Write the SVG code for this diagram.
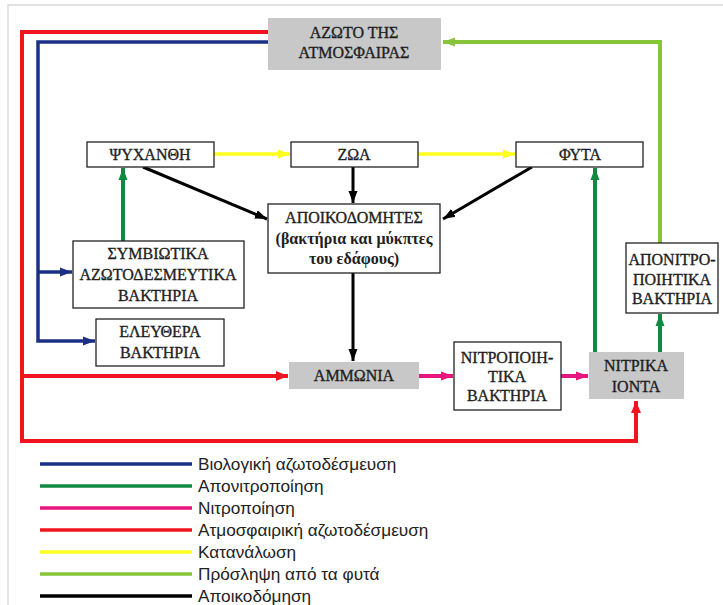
<svg xmlns="http://www.w3.org/2000/svg" width="723" height="605" viewBox="0 0 723 605">
<style>
.box{fill:#ffffff;stroke:#222;stroke-width:1.3}
.gbox{fill:#c8c8c8;stroke:none}
.t{font-family:"Liberation Serif","Times New Roman",serif;font-size:16px;fill:#1e1e1e;stroke:#1e1e1e;stroke-width:0.35;text-anchor:middle}
.tb{font-weight:bold;stroke-width:0;font-size:16px}
.lg{font-family:"Liberation Sans",Arial,sans-serif;font-size:17.2px;fill:#222}
.c{fill:none;stroke-linejoin:miter}
.red{stroke:#f0141e;stroke-width:4}
.blue{stroke:#1b2f85;stroke-width:3.5}
.dg{stroke:#108a40;stroke-width:4}
.lgr{stroke:#86c43a;stroke-width:4}
.yel{stroke:#ffff1e;stroke-width:3.5}
.mag{stroke:#e8157f;stroke-width:4}
.blk{stroke:#000;stroke-width:3}
</style>
<defs>
<marker id="aRed" markerUnits="userSpaceOnUse" markerWidth="14" markerHeight="12" refX="12" refY="6" orient="auto"><path d="M0,1 L12,6 L0,11 Z" fill="#f0141e"/></marker>
<marker id="aBlue" markerUnits="userSpaceOnUse" markerWidth="14" markerHeight="12" refX="12" refY="6" orient="auto"><path d="M0,1.5 L12,6 L0,10.5 Z" fill="#1b2f85"/></marker>
<marker id="aDG" markerUnits="userSpaceOnUse" markerWidth="14" markerHeight="12" refX="12" refY="6" orient="auto"><path d="M0,1.5 L12,6 L0,10.5 Z" fill="#108a40"/></marker>
<marker id="aLG" markerUnits="userSpaceOnUse" markerWidth="14" markerHeight="12" refX="12" refY="6" orient="auto"><path d="M0,1.5 L12,6 L0,10.5 Z" fill="#86c43a"/></marker>
<marker id="aYel" markerUnits="userSpaceOnUse" markerWidth="14" markerHeight="12" refX="12" refY="6" orient="auto"><path d="M0,1.5 L12,6 L0,10.5 Z" fill="#ffff1e"/></marker>
<marker id="aMag" markerUnits="userSpaceOnUse" markerWidth="14" markerHeight="12" refX="12" refY="6" orient="auto"><path d="M0,1.5 L12,6 L0,10.5 Z" fill="#e8157f"/></marker>
<marker id="aBlk" markerUnits="userSpaceOnUse" markerWidth="14" markerHeight="12" refX="12" refY="6" orient="auto"><path d="M0,1.5 L12,6 L0,10.5 Z" fill="#000"/></marker>
</defs>
<rect width="723" height="605" fill="#ffffff"/>
<path d="M8,605 V5 H723" fill="none" stroke="#d8d8d8" stroke-width="1.3"/>

<g id="connectors">
<path class="c red" d="M268,32 H22 V441 H636 V401" marker-end="url(#aRed)"/>
<path class="c red" d="M22,376 H288" marker-end="url(#aRed)"/>
<path class="c blue" d="M268,42 H38 V341 H95" marker-end="url(#aBlue)"/>
<path class="c blue" d="M38,272 H72" marker-end="url(#aBlue)"/>
<path class="c lgr" d="M660,243 V42 H443" marker-end="url(#aLG)"/>
<path class="c yel" d="M214,154 H290" marker-end="url(#aYel)"/>
<path class="c yel" d="M418,154 H515" marker-end="url(#aYel)"/>
<path class="c blk" d="M143,167 L267,219" marker-end="url(#aBlk)"/>
<path class="c blk" d="M353,167 V203" marker-end="url(#aBlk)"/>
<path class="c blk" d="M532,167 L443,219" marker-end="url(#aBlk)"/>
<path class="c blk" d="M353,273 V361" marker-end="url(#aBlk)"/>
<path class="c dg" d="M123,241 V168" marker-end="url(#aDG)"/>
<path class="c dg" d="M595,352 V168" marker-end="url(#aDG)"/>
<path class="c dg" d="M660,352 V314" marker-end="url(#aDG)"/>
<path class="c mag" d="M419,376 H453" marker-end="url(#aMag)"/>
<path class="c mag" d="M561,376 H588" marker-end="url(#aMag)"/>
</g>

<g id="azoto">
<rect class="gbox" x="268" y="18" width="173" height="52"/>
<text class="t" x="354" y="38">ΑΖΩΤΟ ΤΗΣ</text>
<text class="t" x="354" y="58">ΑΤΜΟΣΦΑΙΡΑΣ</text>
</g>
<g id="psychanthi">
<rect class="box" x="87" y="142" width="127" height="25"/>
<text class="t" x="150" y="160">ΨΥΧΑΝΘΗ</text>
</g>
<g id="zoa">
<rect class="box" x="291" y="142" width="127" height="25"/>
<text class="t" x="354" y="160">ΖΩΑ</text>
</g>
<g id="fyta">
<rect class="box" x="516" y="142" width="127" height="25"/>
<text class="t" x="580" y="160">ΦΥΤΑ</text>
</g>
<g id="apoikodomites">
<rect class="box" x="268" y="204" width="172" height="69"/>
<text class="t" x="354" y="223">ΑΠΟΙΚΟΔΟΜΗΤΕΣ</text>
<text class="t tb" x="354" y="244">(βακτήρια και μύκπτες</text>
<text class="t tb" x="354" y="264">του εδάφους)</text>
</g>
<g id="symviotika">
<rect class="box" x="73" y="241" width="171" height="67"/>
<text class="t" x="158" y="259">ΣΥΜΒΙΩΤΙΚΑ</text>
<text class="t" x="158" y="280">ΑΖΩΤΟΔΕΣΜΕΥΤΙΚΑ</text>
<text class="t" x="158" y="301">ΒΑΚΤΗΡΙΑ</text>
</g>
<g id="eleuthera">
<rect class="box" x="96" y="319" width="128" height="47"/>
<text class="t" x="160" y="337">ΕΛΕΥΘΕΡΑ</text>
<text class="t" x="160" y="358">ΒΑΚΤΗΡΙΑ</text>
</g>
<g id="ammonia">
<rect class="gbox" x="289" y="362" width="130" height="27"/>
<text class="t" x="354" y="381">ΑΜΜΩΝΙΑ</text>
</g>
<g id="nitropoiitika">
<rect class="box" x="454" y="342" width="107" height="68"/>
<text class="t" x="507" y="363">ΝΙΤΡΟΠΟΙΗ-</text>
<text class="t" x="507" y="382">ΤΙΚΑ</text>
<text class="t" x="507" y="401">ΒΑΚΤΗΡΙΑ</text>
</g>
<g id="nitrika">
<rect class="gbox" x="589" y="352" width="95" height="47"/>
<text class="t" x="636" y="371">ΝΙΤΡΙΚΑ</text>
<text class="t" x="636" y="392">ΙΟΝΤΑ</text>
</g>
<g id="aponitro">
<rect class="box" x="626" y="243" width="92" height="70"/>
<text class="t" x="672" y="265">ΑΠΟΝΙΤΡΟ-</text>
<text class="t" x="672" y="285">ΠΟΙΗΤΙΚΑ</text>
<text class="t" x="672" y="304">ΒΑΚΤΗΡΙΑ</text>
</g>

<g id="legend">
<line x1="40" y1="464" x2="192" y2="464" stroke="#1b2f85" stroke-width="3.5"/>
<line x1="40" y1="486" x2="192" y2="486" stroke="#108a40" stroke-width="3.5"/>
<line x1="40" y1="508" x2="192" y2="508" stroke="#e8157f" stroke-width="3.5"/>
<line x1="40" y1="530" x2="192" y2="530" stroke="#f0141e" stroke-width="3.5"/>
<line x1="40" y1="552" x2="192" y2="552" stroke="#ffff1e" stroke-width="3.5"/>
<line x1="40" y1="574" x2="192" y2="574" stroke="#86c43a" stroke-width="3.5"/>
<line x1="40" y1="596" x2="192" y2="596" stroke="#000" stroke-width="3.5"/>
<text class="lg" x="198" y="470">Βιολογική αζωτοδέσμευση</text>
<text class="lg" x="198" y="492">Απονιτροποίηση</text>
<text class="lg" x="198" y="514">Νιτροποίηση</text>
<text class="lg" x="198" y="536">Ατμοσφαιρική αζωτοδέσμευση</text>
<text class="lg" x="198" y="558">Κατανάλωση</text>
<text class="lg" x="198" y="580">Πρόσληψη από τα φυτά</text>
<text class="lg" x="198" y="602">Αποικοδόμηση</text>
</g>
</svg>
